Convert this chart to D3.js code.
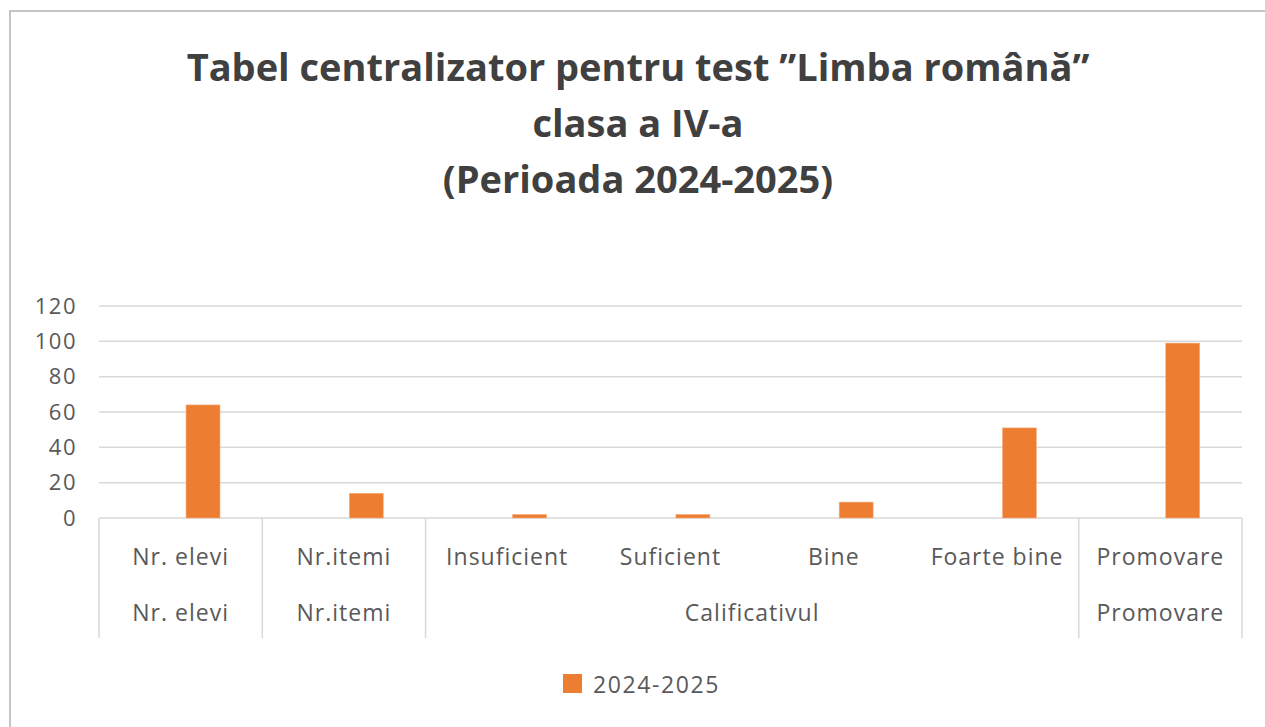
<!DOCTYPE html>
<html>
<head>
<meta charset="utf-8">
<title>Tabel centralizator</title>
<style>
  body { margin: 0; background: #fff; }
  text { font-family: "Open Sans", "Noto Sans", sans-serif; }
</style>
</head>
<body>
<script src="https://d3js.org/d3.v7.min.js"></script>
<svg width="1265" height="727" id="mainsvg"></svg>
<script>
// data
const categories = ["Nr. elevi", "Nr.itemi", "Insuficient", "Suficient", "Bine", "Foarte bine", "Promovare"];
const groups = ["Nr. elevi", "Nr.itemi", "Calificativul", "Calificativul", "Calificativul", "Calificativul", "Promovare"];
const values = [64, 14, 2, 2, 9, 51, 99];
const seriesName = "2024-2025";
const yTicks = [0, 20, 40, 60, 80, 100, 120];
const titleLines = ["Tabel centralizator pentru test \u201DLimba rom\u00E2n\u0103\u201D", "clasa a IV-a", "(Perioada 2024-2025)"];

const svg = d3.select('#mainsvg');
const width = +svg.attr('width'), height = +svg.attr('height');
const margin = {left: 99, right: 23, top: 306, bottom: 209};
const textColor = "#595959";
const barColor = "#ed7d31";

svg.append("rect").attr("width", width).attr("height", height).attr("fill", "#fff");

// chart frame (only top and left visible)
svg.append("path")
    .attr("d", `M10,${height} L10,11 L${width},11`)
    .attr("fill", "none")
    .attr("stroke", "#c4c4c4")
    .attr("stroke-width", 2);

// title
const title = svg.append("g").attr("font-weight", "bold").attr("fill", "#404040")
    .attr("text-anchor", "middle");
title.selectAll("text")
    .data(titleLines)
    .join("text")
    .attr("x", 638)
    .attr("y", (d, i) => 81 + i * 56)
    .attr("font-size", 38)
    .text(d => d);

const x = d3.scaleBand()
    .domain(categories)
    .range([margin.left, width - margin.right])
    .padding(0);

const y = d3.scaleLinear()
    .domain([0, 120])
    .range([height - margin.bottom, margin.top]);

// gridlines
svg.append("g")
    .selectAll("line")
    .data(yTicks)
    .join("line")
    .attr("x1", margin.left)
    .attr("x2", width - margin.right)
    .attr("y1", d => y(d))
    .attr("y2", d => y(d))
    .attr("stroke", "#d9d9d9")
    .attr("stroke-width", 1.5);

// y axis labels
const yAxis = svg.append("g")
    .attr("transform", `translate(${margin.left - 22},0)`)
    .call(d3.axisLeft(y).tickValues(yTicks).tickSize(0).tickPadding(0));
yAxis.select(".domain").remove();
yAxis.selectAll("text")
    .attr("font-family", "\"Open Sans\", sans-serif")
    .attr("font-size", 22)
    .attr("letter-spacing", 1.5)
    .attr("fill", textColor);

// bars (single visible series, offset right in each category)
svg.append("g")
    .selectAll("rect")
    .data(categories)
    .join("rect")
    .attr("x", d => x(d) + x.bandwidth() * 0.533)
    .attr("width", x.bandwidth() * 0.208)
    .attr("y", (d, i) => y(values[i]))
    .attr("height", (d, i) => y(0) - y(values[i]))
    .attr("fill", barColor)
    .attr("stroke", "#f4b183")
    .attr("stroke-width", 0.6);

// multi-level category axis
const axisG = svg.append("g");
const y0 = y(0);
const axisBottom = y0 + 120;

// group spans from consecutive category runs
const spans = [];
categories.forEach((c, i) => {
    const last = spans[spans.length - 1];
    if (last && last.name === groups[i]) last.end = i;
    else spans.push({name: groups[i], start: i, end: i});
});

const boundaries = [x(categories[0])].concat(spans.map(s => x(categories[s.end]) + x.bandwidth()));
axisG.selectAll("line.sep")
    .data(boundaries)
    .join("line")
    .attr("class", "sep")
    .attr("x1", d => d).attr("x2", d => d)
    .attr("y1", y0).attr("y2", axisBottom)
    .attr("stroke", "#d9d9d9")
    .attr("stroke-width", 1.5);

axisG.selectAll("text.lvl1")
    .data(categories)
    .join("text")
    .attr("class", "lvl1")
    .attr("x", d => x(d) + x.bandwidth() / 2)
    .attr("y", y0 + 38)
    .attr("text-anchor", "middle")
    .attr("dominant-baseline", "central")
    .attr("font-size", 23)
    .attr("letter-spacing", 1)
    .attr("fill", textColor)
    .text(d => d);

axisG.selectAll("text.lvl2")
    .data(spans)
    .join("text")
    .attr("class", "lvl2")
    .attr("x", s => (x(categories[s.start]) + x(categories[s.end]) + x.bandwidth()) / 2)
    .attr("y", y0 + 94)
    .attr("text-anchor", "middle")
    .attr("dominant-baseline", "central")
    .attr("font-size", 23)
    .attr("letter-spacing", 1)
    .attr("fill", textColor)
    .text(s => s.name);

// legend
const legend = svg.append("g").attr("transform", "translate(563,674)");
legend.append("rect")
    .attr("width", 19).attr("height", 19)
    .attr("fill", barColor);
legend.append("text")
    .attr("x", 30).attr("y", 10)
    .attr("dominant-baseline", "central")
    .attr("font-size", 23)
    .attr("letter-spacing", 1.6)
    .attr("fill", textColor)
    .text(seriesName);
</script>
</body>
</html>
